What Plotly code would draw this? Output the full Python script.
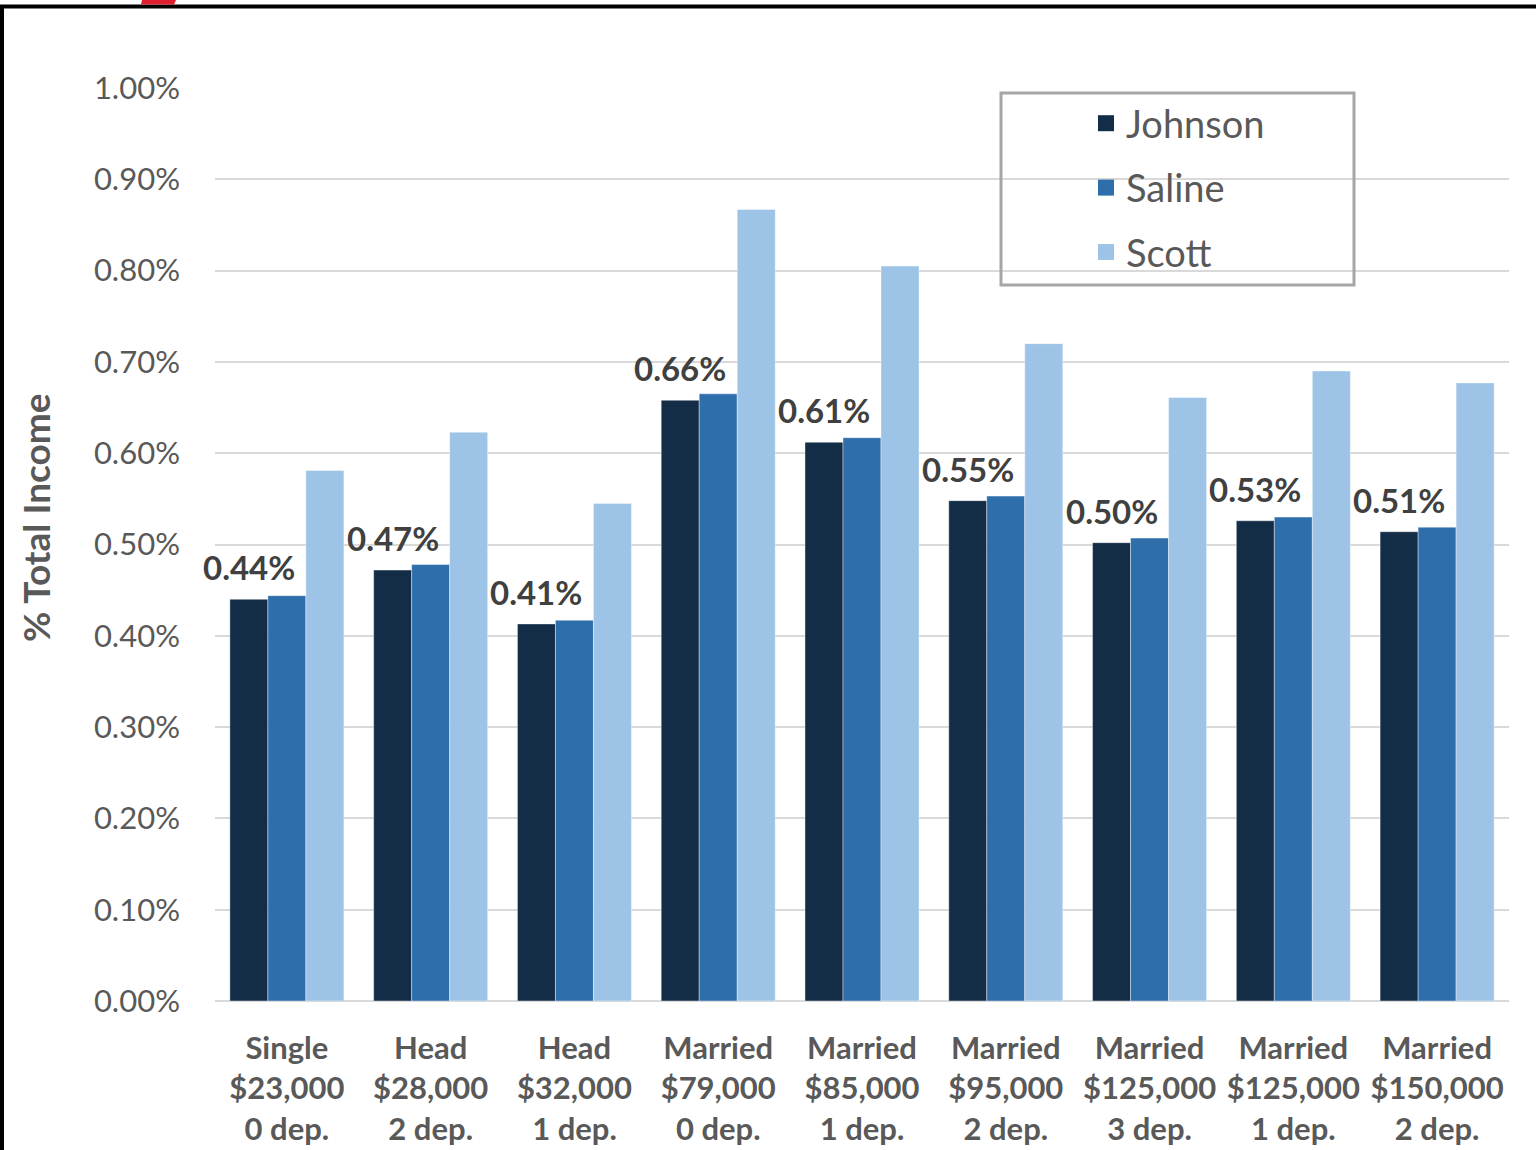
import plotly.graph_objects as go

# Household profiles (filing status / income / dependents)
categories = [
    "Single<br>$23,000<br>0 dep.",
    "Head<br>$28,000<br>2 dep.",
    "Head<br>$32,000<br>1 dep.",
    "Married<br>$79,000<br>0 dep.",
    "Married<br>$85,000<br>1 dep.",
    "Married<br>$95,000<br>2 dep.",
    "Married<br>$125,000<br>3 dep.",
    "Married<br>$125,000<br>1 dep.",
    "Married<br>$150,000<br>2 dep.",
]

# Share of total income, per county
johnson = [0.00440, 0.00472, 0.00413, 0.00658, 0.00612, 0.00548, 0.00502, 0.00526, 0.00514]
saline = [0.00444, 0.00478, 0.00417, 0.00665, 0.00617, 0.00553, 0.00507, 0.00530, 0.00519]
scott = [0.00581, 0.00623, 0.00545, 0.00867, 0.00805, 0.00720, 0.00661, 0.00690, 0.00677]

series_names = ["Johnson", "Saline", "Scott"]
series_values = [johnson, saline, scott]
series_colors = ["#142d47", "#2e6eab", "#9dc3e6"]

y_ticks = [i / 1000 for i in range(0, 11)]

W, H = 1536, 1150
L, R, T, B = 215, 27, 88, 149
PW, PH = W - L - R, H - T - B

FONT = "Lato"
GRAY = "#595959"


def px_x(p):
    return (p - L) / PW


def px_y(p):
    return 1 - (p - T) / PH


fig = go.Figure()
for name, vals, col in zip(series_names, series_values, series_colors):
    fig.add_trace(go.Bar(
        x=categories, y=vals, name=name, showlegend=False,
        marker=dict(color=col, line=dict(color="rgba(255,255,255,0.5)", width=0.8)),
    ))

# legend keys: square swatches per county
for name, col in zip(series_names, series_colors):
    fig.add_trace(go.Scatter(
        x=[None], y=[None], mode="markers", name=name, legendgroup=name,
        marker=dict(symbol="square", size=21, color=col),
    ))

# value labels over the Johnson bars
for cat, v in zip(categories, johnson):
    fig.add_annotation(
        x=cat, y=v, xref="x", yref="y", text=f"{v * 100:.2f}%",
        showarrow=False, xshift=-38, yshift=10, yanchor="bottom",
        font=dict(family=FONT, size=33, color="#404040", weight="bold"),
    )

# axis title
fig.add_annotation(
    x=px_x(35), y=px_y(518), xref="paper", yref="paper",
    text="% Total Income", textangle=-90, showarrow=False,
    xanchor="center", yanchor="middle",
    font=dict(family=FONT, size=37, color=GRAY, weight="bold"),
)

shapes = [
    # legend frame
    dict(type="rect", xref="paper", yref="paper",
         x0=px_x(1001), x1=px_x(1354), y0=px_y(285), y1=px_y(93),
         line=dict(color="#a6a6a6", width=3), fillcolor="rgba(0,0,0,0)"),
    # page frame
    dict(type="line", xref="paper", yref="paper",
         x0=px_x(0), x1=px_x(W), y0=px_y(6.5), y1=px_y(6.5),
         line=dict(color="black", width=4)),
    dict(type="line", xref="paper", yref="paper",
         x0=px_x(2), x1=px_x(2), y0=px_y(5), y1=px_y(H),
         line=dict(color="black", width=4)),
    # red accent
    dict(type="path", xref="paper", yref="paper",
         path=(f"M{px_x(142)},{px_y(0)} L{px_x(176)},{px_y(0)} "
               f"L{px_x(174)},{px_y(4.5)} L{px_x(141)},{px_y(4.5)} Z"),
         line=dict(width=0), fillcolor="#e0202e"),
]

fig.update_layout(
    width=W, height=H,
    margin=dict(l=L, r=R, t=T, b=B, pad=0, autoexpand=False),
    paper_bgcolor="white", plot_bgcolor="white",
    barmode="group", bargap=0.207, bargroupgap=0,
    font=dict(family=FONT, color=GRAY),
    shapes=shapes,
    showlegend=True,
    legend=dict(
        x=px_x(1086), y=px_y(92), xanchor="left", yanchor="top",
        bgcolor="rgba(0,0,0,0)", borderwidth=0,
        font=dict(family=FONT, size=38, color=GRAY),
        traceorder="grouped", tracegroupgap=12,
        itemwidth=30,
    ),
    xaxis=dict(
        type="category", categoryorder="array", categoryarray=categories,
        range=[-0.5, len(categories) - 0.5],
        showgrid=False, showline=False, ticks="", automargin=False,
        tickfont=dict(family=FONT, size=31, color=GRAY, weight="bold"),
        ticklabelstandoff=26,
    ),
    yaxis=dict(
        range=[0, 0.01], tickvals=y_ticks, tickformat=".2%", automargin=False,
        showgrid=True, gridcolor="#d9d9d9", gridwidth=2,
        zeroline=True, zerolinecolor="#d9d9d9", zerolinewidth=2,
        showline=False, ticks="",
        tickfont=dict(family=FONT, size=31, color=GRAY),
        ticklabelstandoff=34,
    ),
)

fig.write_html("out.html")
